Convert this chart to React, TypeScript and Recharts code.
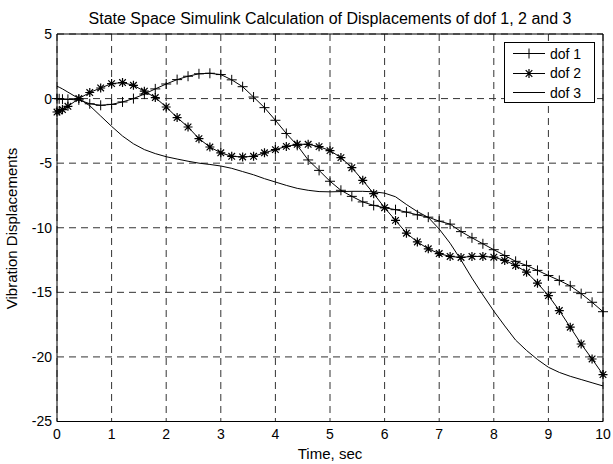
import { LineChart, Line, XAxis, YAxis, CartesianGrid, Legend, ReferenceLine } from 'recharts'

// time, sec (dense start like the variable-step solver, then 0.2 s)
const time = [
    0, 0.04, 0.1, 0.2, 0.4, 0.6, 0.8, 1.0, 1.2, 1.4, 1.6, 1.8, 2.0, 2.2, 2.4, 2.6, 2.8, 3.0, 3.2, 3.4, 3.6, 3.8,
    4.0, 4.2, 4.4, 4.6, 4.8, 5.0, 5.2, 5.4, 5.6, 5.8, 6.0, 6.2, 6.4, 6.6, 6.8, 7.0, 7.2, 7.4, 7.6, 7.8,
    8.0, 8.2, 8.4, 8.6, 8.8, 9.0, 9.2, 9.4, 9.6, 9.8, 10.0,
]

const dof1 = [
    0, -0.02, -0.05, -0.06, -0.1, -0.4, -0.52, -0.45, -0.26, 0.0, 0.35, 0.75, 1.13, 1.47, 1.73, 1.92, 1.96, 1.86, 1.45, 0.92, 0.12, -0.7,
    -1.68, -2.7, -3.62, -4.75, -5.56, -6.4, -7.1, -7.57, -8.0, -8.27, -8.45, -8.6, -8.79, -9.0, -9.18, -9.49, -9.72, -10.3, -10.78, -11.24,
    -11.7, -12.15, -12.6, -12.92, -13.3, -13.7, -14.08, -14.5, -15.1, -15.77, -16.5,
]

const dof2 = [
    -1.04, -0.97, -0.85, -0.6, 0.0, 0.47, 0.82, 1.16, 1.24, 1.03, 0.57, 0.08, -0.65, -1.47, -2.2, -3.1, -3.75, -4.2, -4.47, -4.52, -4.47, -4.2,
    -3.95, -3.7, -3.54, -3.54, -3.72, -4.03, -4.57, -5.35, -6.33, -7.36, -8.45, -9.43, -10.42, -11.1, -11.63, -12.0, -12.22, -12.3, -12.22, -12.22,
    -12.28, -12.53, -12.92, -13.44, -14.29, -15.25, -16.41, -17.7, -19.0, -20.16, -21.37,
]

const dof3 = [
    0.95, 0.88, 0.75, 0.5, 0.0, -0.55, -1.35, -2.15, -2.9, -3.5, -3.95, -4.26, -4.5, -4.68, -4.85, -5.0, -5.1, -5.22, -5.4, -5.65, -5.9, -6.2,
    -6.46, -6.72, -6.95, -7.1, -7.2, -7.22, -7.2, -7.18, -7.18, -7.22, -7.32, -7.6, -8.2, -8.75, -9.2, -10.1, -11.2, -12.5, -13.9, -15.2,
    -16.45, -17.6, -18.7, -19.5, -20.2, -20.8, -21.2, -21.5, -21.75, -22.0, -22.25,
]

const xTicks = [0, 1, 2, 3, 4, 5, 6, 7, 8, 9, 10]
const yTicks = [-25, -20, -15, -10, -5, 0, 5]

const data = time.map((t, i) => ({ t, dof1: dof1[i], dof2: dof2[i], dof3: dof3[i] }))

const FONT = '"Liberation Sans", Arial, sans-serif'

const PlusDot = (props: any) => {
    const { cx, cy, index } = props
    if (cx == null || cy == null) return null
    return (
        <path key={`p${index}`} d={`M${cx - 5},${cy}H${cx + 5}M${cx},${cy - 5}V${cy + 5}`} stroke="#000" strokeWidth={1} fill="none" />
    )
}

const StarDot = (props: any) => {
    const { cx, cy, index } = props
    if (cx == null || cy == null) return null
    const r = 4.5
    const d = 3.3
    return (
        <path
            key={`s${index}`}
            d={`M${cx - r},${cy}H${cx + r}M${cx},${cy - r}V${cy + r}M${cx - d},${cy - d}L${cx + d},${cy + d}M${cx - d},${cy + d}L${cx + d},${cy - d}`}
            stroke="#000"
            strokeWidth={1.2}
            fill="none"
        />
    )
}

// легенда в стиле matlab
const LegendBox = () => {
    const rows = [
        { name: 'dof 1', mark: 'plus' },
        { name: 'dof 2', mark: 'star' },
        { name: 'dof 3', mark: 'none' },
    ]
    return (
        <div style={{ width: 91, height: 61, border: '1px solid #000', background: '#fff', fontFamily: FONT, fontSize: 14, boxSizing: 'border-box', paddingTop: 1 }}>
            {rows.map((r) => (
                <div key={r.name} style={{ display: 'flex', alignItems: 'center', height: 19.5 }}>
                    <svg width={45} height={19}>
                        <line x1={8} x2={40} y1={9.5} y2={9.5} stroke="#000" strokeWidth={1} />
                        {r.mark === 'plus' && <PlusDot cx={24} cy={9.5} index={0} />}
                        {r.mark === 'star' && <StarDot cx={24} cy={9.5} index={0} />}
                    </svg>
                    <span style={{ color: '#000' }}>{r.name}</span>
                </div>
            ))}
        </div>
    )
}

const App = () => {
    return (
        <div style={{ position: 'absolute', left: 0, top: 0, width: 613, height: 464, background: '#fff', fontFamily: FONT }}>
            <div style={{ position: 'absolute', left: 57, width: 546, top: 10, textAlign: 'center', fontSize: 16, lineHeight: '18px', color: '#000' }}>
                State Space Simulink Calculation of Displacements of dof 1, 2 and 3
            </div>
            <div
                style={{
                    position: 'absolute', left: 12, top: 228, width: 0, height: 0,
                    display: 'flex', alignItems: 'center', justifyContent: 'center',
                }}
            >
                <div style={{ transform: 'rotate(-90deg)', whiteSpace: 'nowrap', fontSize: 15, color: '#000' }}>
                    Vibration Displacements
                </div>
            </div>
            <div style={{ position: 'absolute', left: 57, width: 546, top: 445, textAlign: 'center', fontSize: 15, lineHeight: '17px', color: '#000' }}>
                Time, sec
            </div>
            <LineChart width={613} height={464} data={data} margin={{ top: 34, right: 10, bottom: 0, left: 0 }}>
                <CartesianGrid stroke="#333" strokeDasharray="7 5" strokeWidth={1} />
                <XAxis
                    dataKey="t"
                    type="number"
                    domain={[0, 10]}
                    ticks={xTicks}
                    height={42.5}
                    tickLine={false}
                    tickSize={0}
                    tickMargin={8}
                    stroke="#000"
                    tick={{ fill: '#000', fontSize: 14, fontFamily: FONT }}
                />
                <YAxis
                    type="number"
                    domain={[-25, 5]}
                    ticks={yTicks}
                    width={57}
                    tickLine={false}
                    tickSize={0}
                    tickMargin={5}
                    stroke="#000"
                    tick={{ fill: '#000', fontSize: 14, fontFamily: FONT }}
                />
                <ReferenceLine x={10} stroke="#000" strokeWidth={1} />
                <ReferenceLine y={5} stroke="#000" strokeWidth={1} />
                <Line dataKey="dof1" name="dof 1" type="linear" stroke="#000" strokeWidth={1} dot={<PlusDot />} isAnimationActive={false} />
                <Line dataKey="dof2" name="dof 2" type="linear" stroke="#000" strokeWidth={1} dot={<StarDot />} isAnimationActive={false} />
                <Line dataKey="dof3" name="dof 3" type="linear" stroke="#000" strokeWidth={1} dot={false} isAnimationActive={false} />
                <Legend
                    layout="vertical"
                    align="center"
                    verticalAlign="middle"
                    content={() => <LegendBox />}
                    wrapperStyle={{ left: 504, top: 42, width: 91, height: 61 }}
                />
            </LineChart>
        </div>
    )
}

export default App
